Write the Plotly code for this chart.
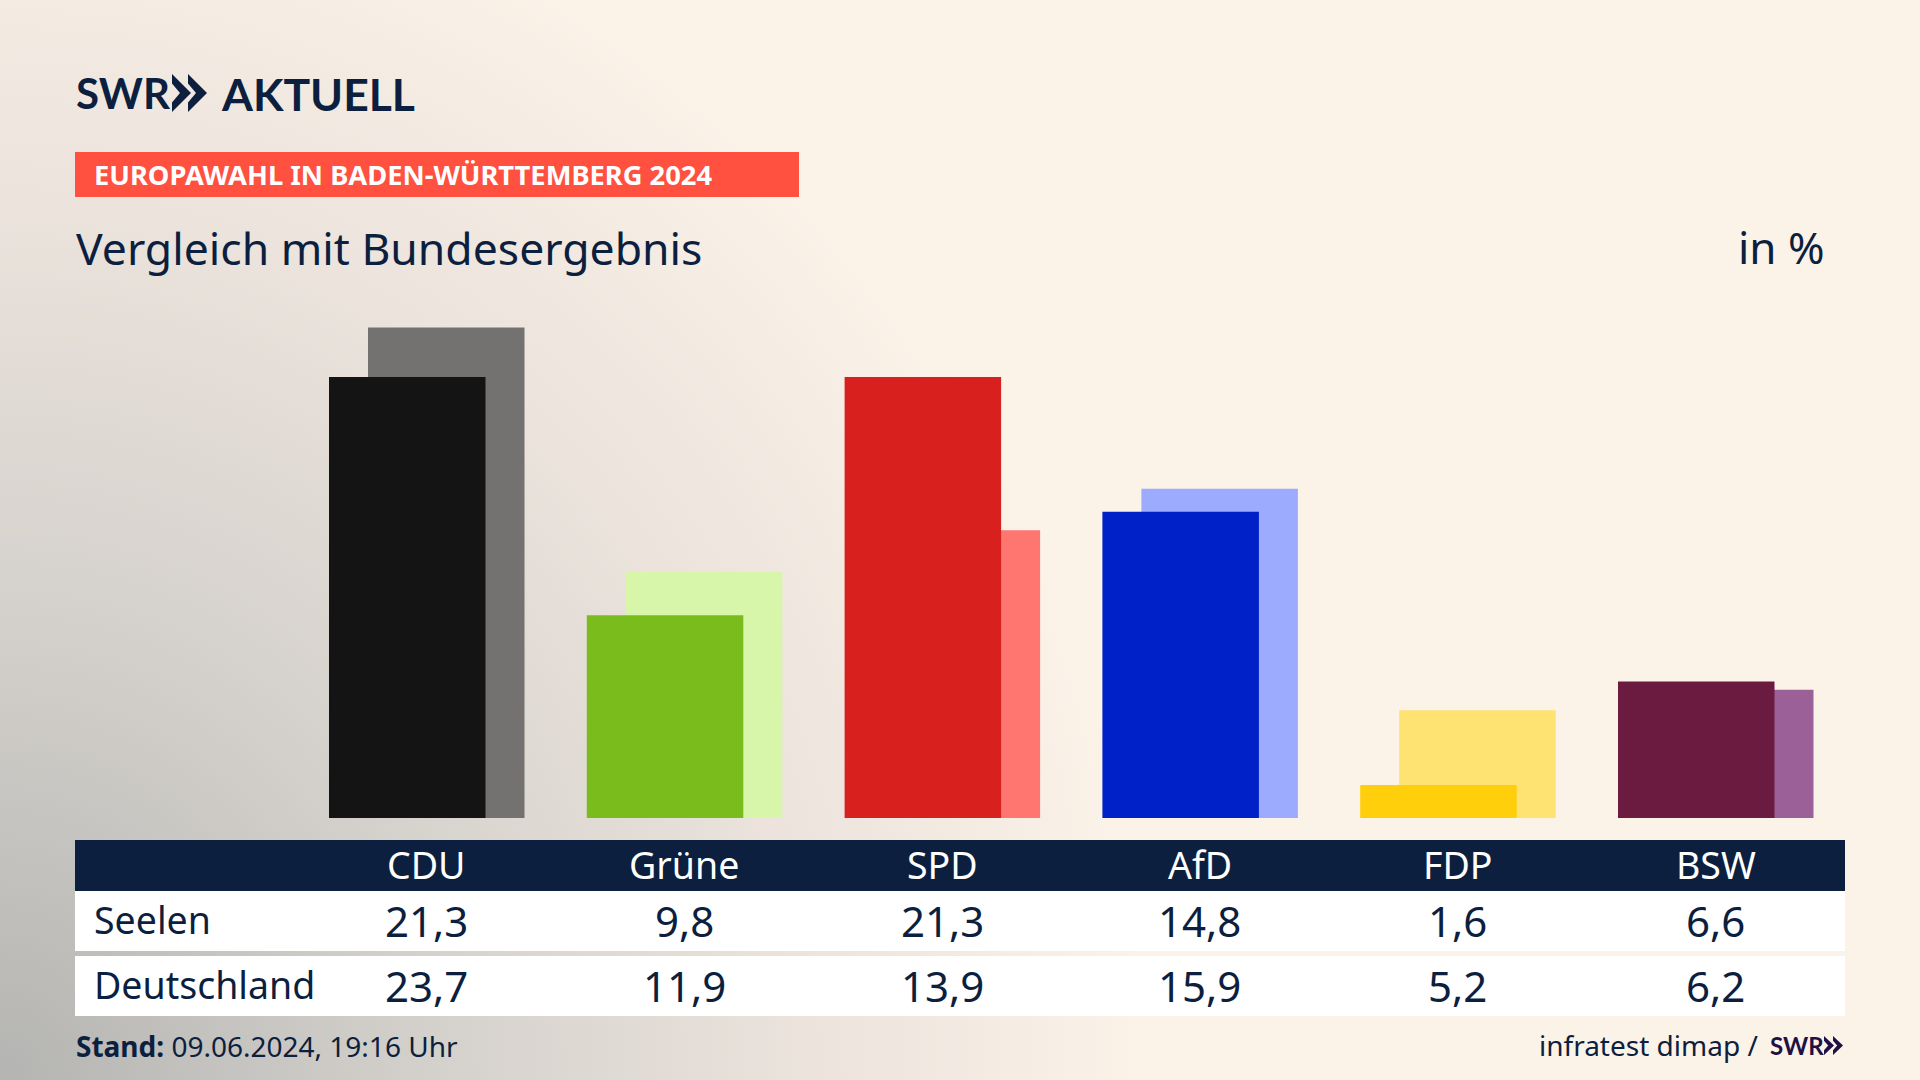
"""SWR Europawahl BW 2024: Vergleich mit Bundesergebnis."""

import urllib.parse

import plotly.graph_objects as go

W, H = 1920, 1080

parties = ["CDU", "Grüne", "SPD", "AfD", "FDP", "BSW"]
seelen = [21.3, 9.8, 21.3, 14.8, 1.6, 6.6]
deutschland = [23.7, 11.9, 13.9, 15.9, 5.2, 6.2]
colors_front = ["#141414", "#7ABC1B", "#D8201E", "#0020C8", "#FFCF0C", "#6B1A40"]
colors_back = ["#737270", "#D7F6A9", "#FF7570", "#9DABFF", "#FEE272", "#9B6098"]
row_labels = ["Seelen", "Deutschland"]

NAVY = "#0C1F3F"
PURPLE = "#1F1144"
FONT = "Noto Sans"
LOGO_FONT = "Lato"

# bar geometry in category units (one category = 257.8 px)
PITCH = 257.8
BAR_W = 156.5 / PITCH
OFF_FRONT = -98 / PITCH
OFF_BACK = -59 / PITCH
PX_PER_UNIT = 20.7
BAR_X0 = 427


def px(x):
    return x / W


def py(y):
    return 1 - y / H


def label(text, x, y, size, color=NAVY, anchor="left", family=FONT):
    return dict(
        text=text, x=px(x), y=py(y), xref="paper", yref="paper",
        xanchor=anchor, yanchor="middle", showarrow=False, borderpad=0,
        font=dict(family=family, size=size, color=color),
    )


def rect(x0, y0, x1, y1, color):
    return dict(
        type="rect", xref="paper", yref="paper", layer="below",
        x0=px(x0), x1=px(x1), y0=py(y0), y1=py(y1),
        fillcolor=color, line_width=0,
    )


def chevron(x, y_top, y_bot, w, color):
    # arrow head of the SWR logo, pixel coordinates
    mid = (y_top + y_bot) / 2
    h = y_bot - y_top
    path = (
        f"M {px(x)} {py(y_top)} L {px(x + w)} {py(mid)} L {px(x)} {py(y_bot)} "
        f"L {px(x)} {py(y_bot - h * 0.25)} L {px(x + w * 0.42)} {py(mid)} "
        f"L {px(x)} {py(y_top + h * 0.25)} Z"
    )
    return dict(type="path", xref="paper", yref="paper", path=path, fillcolor=color, line_width=0)


fig = go.Figure()

fig.add_trace(go.Bar(
    x=parties, y=deutschland, name="Deutschland", marker_color=colors_back,
    marker_line_width=0, width=BAR_W, offset=OFF_BACK,
))
fig.add_trace(go.Bar(
    x=parties, y=seelen, name="Seelen", marker_color=colors_front,
    marker_line_width=0, width=BAR_W, offset=OFF_FRONT,
))

# background gradient, grey from the lower left corner
svg = (
    f'<svg xmlns="http://www.w3.org/2000/svg" width="{W}" height="{H}">'
    '<defs><radialGradient id="g" gradientUnits="userSpaceOnUse" cx="0" cy="0" r="1" '
    f'gradientTransform="translate(0 {H}) scale(1150 1250)">'
    '<stop offset="0" stop-color="#B4B4B2"/>'
    '<stop offset="0.35" stop-color="#D2CFCA"/>'
    '<stop offset="0.7" stop-color="#EBE3DC"/>'
    '<stop offset="1" stop-color="#FBF3E8"/>'
    '</radialGradient></defs>'
    f'<rect width="{W}" height="{H}" fill="#FBF3E8"/>'
    f'<rect width="{W}" height="{H}" fill="url(#g)"/></svg>'
)
bg_image = dict(
    source="data:image/svg+xml;charset=utf-8," + urllib.parse.quote(svg),
    xref="paper", yref="paper", x=0, y=1, sizex=1, sizey=1,
    xanchor="left", yanchor="top", sizing="stretch", layer="below",
)

annotations = [
    label("<b>SWR</b>", 75, 93, 42, family=LOGO_FONT),
    label("<b>AKTUELL</b>", 220, 93, 44.5, family=LOGO_FONT),
    label("<b>EUROPAWAHL IN BADEN-WÜRTTEMBERG 2024</b>", 93, 175, 27.3, "white"),
    label("Vergleich mit Bundesergebnis", 75, 247, 44.5),
    label("in %", 1826, 247, 44, anchor="right"),
    label("<b>Stand:</b> 09.06.2024, 19:16 Uhr", 75, 1046, 28),
    label("infratest dimap /", 1759, 1045, 28, anchor="right"),
    label("<b>SWR</b>", 1769, 1045, 24, PURPLE, family=LOGO_FONT),
]

row_y = [919.5, 984.5]
for name, y in zip(row_labels, row_y):
    annotations.append(label(name, 93, y, 37.5))

for i, party in enumerate(parties):
    cx = 426.5 + PITCH * i
    annotations.append(label(party, cx, 864, 37.5, "white", "center"))
    annotations.append(label(f"{seelen[i]:.1f}".replace(".", ","), cx, 920, 42, anchor="center"))
    annotations.append(label(f"{deutschland[i]:.1f}".replace(".", ","), cx, 985, 42, anchor="center"))

shapes = [
    rect(75, 152, 799, 197, "#FF5040"),
    rect(75, 840, 1845, 891, NAVY),
    rect(75, 891, 1845, 951, "white"),
    rect(75, 956, 1845, 1016, "white"),
    chevron(172, 74, 112, 19, NAVY),
    chevron(188, 74, 112, 19, NAVY),
    chevron(1824, 1036, 1055, 10, PURPLE),
    chevron(1833, 1036, 1055, 10, PURPLE),
]

fig.update_layout(
    width=W, height=H,
    margin=dict(l=0, r=0, t=0, b=0),
    barmode="overlay",
    showlegend=False,
    paper_bgcolor="#FBF3E8",
    plot_bgcolor="rgba(0,0,0,0)",
    images=[bg_image],
    shapes=shapes,
    annotations=annotations,
)

# axes span the whole canvas so the layout can be placed in pixels
fig.update_xaxes(visible=False, range=[-BAR_X0 / PITCH, (W - BAR_X0) / PITCH])
fig.update_yaxes(visible=False, range=[-(H - 818) / PX_PER_UNIT, 818 / PX_PER_UNIT])

fig.write_html("out.html", config=dict(displayModeBar=False),
               post_script="document.body.style.margin='0';")
